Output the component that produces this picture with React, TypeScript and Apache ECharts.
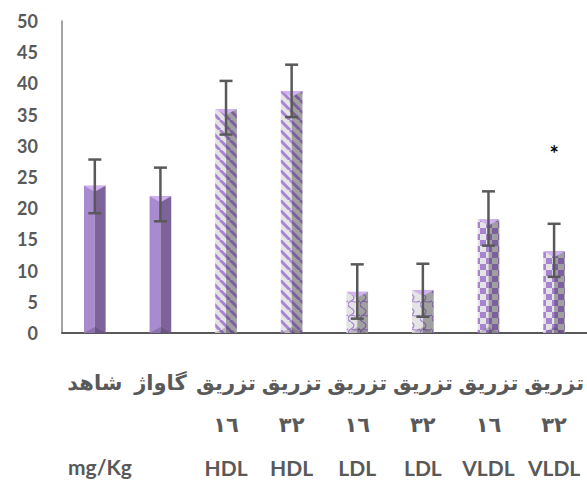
import React, { useEffect, useRef } from "react";
import * as echarts from "echarts";

const categories = ["شاهد", "گاواژ", "تزریق", "تزریق", "تزریق", "تزریق", "تزریق", "تزریق"];
const doseLabels = ["", "", "١٦", "٣٢", "١٦", "٣٢", "١٦", "٣٢"];
const lipidLabels = ["", "", "HDL", "HDL", "LDL", "LDL", "VLDL", "VLDL"];
const means = [23.6, 21.9, 35.9, 38.8, 6.6, 6.9, 18.2, 13.1];
const errLow = [19.2, 17.9, 31.8, 34.6, 2.3, 2.6, 14.0, 9.0];
const errHigh = [27.8, 26.5, 40.4, 43.0, 11.0, 11.1, 22.7, 17.5];
const fillKinds = ["solid", "solid", "stripe", "stripe", "wave", "wave", "check", "check"];
const significance = ["", "", "", "", "", "", "", "*"];
const significanceLevel = [0, 0, 0, 0, 0, 0, 0, 28.8];
const unitLabel = "mg/Kg";
const yTicks = { min: 0, max: 50, interval: 5 };

function makeTile(kind: string, dark: boolean): HTMLCanvasElement {
  const c = document.createElement("canvas");
  const purple = dark ? "#7d5e9f" : "#a783d2";
  const base = dark ? "#a0a0a0" : "#e4e4e4";
  if (kind === "stripe") {
    c.width = 10;
    c.height = 10;
    const g = c.getContext("2d")!;
    g.fillStyle = base;
    g.fillRect(0, 0, 10, 10);
    g.strokeStyle = purple;
    g.lineWidth = 3;
    for (const off of [-10, 0, 10]) {
      g.beginPath();
      g.moveTo(off, 0);
      g.lineTo(off + 10, 10);
      g.stroke();
    }
  } else if (kind === "wave") {
    c.width = 12;
    c.height = 14;
    const g = c.getContext("2d")!;
    g.fillStyle = base;
    g.fillRect(0, 0, 12, 14);
    g.strokeStyle = purple;
    g.lineWidth = 1.2;
    g.beginPath();
    g.moveTo(3, 0);
    g.quadraticCurveTo(9, 3.5, 3, 7);
    g.quadraticCurveTo(-3, 10.5, 3, 14);
    g.stroke();
    g.beginPath();
    g.moveTo(3, 7);
    g.quadraticCurveTo(8, 9, 12, 7);
    g.stroke();
  } else {
    c.width = 12;
    c.height = 12;
    const g = c.getContext("2d")!;
    g.fillStyle = base;
    g.fillRect(0, 0, 12, 12);
    g.fillStyle = purple;
    g.fillRect(0, 0, 6, 6);
    g.fillRect(6, 6, 6, 6);
  }
  return c;
}

function fillFor(kind: string, dark: boolean): any {
  if (kind === "solid") return dark ? "#7d6399" : "#a88bcf";
  return { image: makeTile(kind, dark), repeat: "repeat" };
}

export default function App() {
  const ref = useRef<HTMLDivElement>(null);
  useEffect(() => {
    if (!ref.current) return;
    const chart = echarts.init(ref.current, null, { renderer: "svg" });
    const leftFills = fillKinds.map((k) => fillFor(k, false));
    const rightFills = fillKinds.map((k) => fillFor(k, true));

    const option: any = {
      animation: false,
      backgroundColor: "#ffffff",
      grid: { left: 62, right: 0, top: 21, bottom: 148 },
      xAxis: {
        type: "category",
        data: categories.map((_, i) => String(i)),
        axisLine: { show: true, lineStyle: { color: "#595959", width: 2 } },
        axisTick: { show: false },
        axisLabel: {
          interval: 0,
          margin: 29,
          color: "#595959",
          formatter: (_v: string, idx: number) => {
            const parts = [`{p|${categories[idx]}}`];
            if (doseLabels[idx]) parts.push(`{p|${doseLabels[idx]}}`);
            if (lipidLabels[idx]) parts.push(`{l|${lipidLabels[idx]}}`);
            return parts.join("\n");
          },
          rich: {
            p: {
              fontFamily: "DejaVu Sans, sans-serif",
              fontWeight: "bold",
              fontSize: 21,
              lineHeight: 42,
              color: "#595959",
            },
            l: {
              fontFamily: "Lato, sans-serif",
              fontWeight: "bold",
              fontSize: 21,
              lineHeight: 42,
              color: "#595959",
            },
          },
        },
      },
      yAxis: {
        type: "value",
        min: yTicks.min,
        max: yTicks.max,
        interval: yTicks.interval,
        axisLine: { show: true, lineStyle: { color: "#868686", width: 1.5 } },
        axisTick: { show: false },
        splitLine: { show: false },
        axisLabel: {
          margin: 24,
          color: "#595959",
          fontFamily: "Lato, sans-serif",
          fontWeight: "bold",
          fontSize: 18,
        },
      },
      graphic: [
        {
          type: "text",
          left: 68,
          top: 456,
          style: {
            text: unitLabel,
            fill: "#595959",
            font: "bold 21px Lato, sans-serif",
          },
        },
      ],
      series: [
        {
          type: "custom",
          data: means.map((v, i) => [i, v]),
          encode: { x: 0, y: 1 },
          renderItem: (_p: any, api: any) => {
            const i = api.value(0);
            const v = api.value(1);
            const top = api.coord([i, v]);
            const base = api.coord([i, 0]);
            const bw = api.size([1, 0])[0] * 0.33;
            const cx = top[0];
            const x0 = cx - bw / 2;
            const x1 = cx + bw / 2;
            return {
              type: "group",
              children: [
                {
                  type: "rect",
                  shape: { x: x0, y: top[1], width: bw / 2, height: base[1] - top[1] },
                  style: { fill: leftFills[i] },
                },
                {
                  type: "rect",
                  shape: { x: cx, y: top[1], width: bw / 2, height: base[1] - top[1] },
                  style: { fill: rightFills[i] },
                },
                {
                  type: "polygon",
                  shape: { points: [[x0, top[1]], [x1, top[1]], [cx, top[1] + 6]] },
                  style: { fill: "#d2b2f2" },
                },
                {
                  type: "polygon",
                  shape: { points: [[x0, base[1]], [cx, base[1] - 6], [x1, base[1]]] },
                  style: { fill: "rgba(60,40,80,0.25)" },
                },
              ],
            };
          },
          z: 2,
        },
        {
          type: "custom",
          data: errLow.map((lo, i) => [i, lo, errHigh[i]]),
          encode: { x: 0, y: [1, 2] },
          renderItem: (_p: any, api: any) => {
            const i = api.value(0);
            const lo = api.coord([i, api.value(1)]);
            const hi = api.coord([i, api.value(2)]);
            const hw = 6.5;
            const st = { stroke: "#595959", lineWidth: 2.5 };
            return {
              type: "group",
              children: [
                { type: "line", shape: { x1: lo[0], y1: lo[1], x2: hi[0], y2: hi[1] }, style: st },
                { type: "line", shape: { x1: hi[0] - hw, y1: hi[1], x2: hi[0] + hw, y2: hi[1] }, style: st },
                { type: "line", shape: { x1: lo[0] - hw, y1: lo[1], x2: lo[0] + hw, y2: lo[1] }, style: st },
              ],
            };
          },
          z: 3,
        },
        {
          type: "custom",
          data: significance.map((s, i) => [i, significanceLevel[i], s]),
          encode: { x: 0, y: 1 },
          renderItem: (_p: any, api: any) => {
            const i = api.value(0);
            const s = significance[i];
            if (!s) return null;
            const pt = api.coord([i, significanceLevel[i]]);
            return {
              type: "text",
              x: pt[0],
              y: pt[1],
              style: {
                text: s,
                fill: "#000000",
                font: "bold 22px Lato, sans-serif",
                align: "center",
                verticalAlign: "middle",
              },
            };
          },
          z: 4,
        },
      ],
    };
    chart.setOption(option);
    return () => chart.dispose();
  }, []);
  return (
    <div
      ref={ref}
      style={{ position: "fixed", left: 0, top: 0, width: 587, height: 481, background: "#fff" }}
    />
  );
}
